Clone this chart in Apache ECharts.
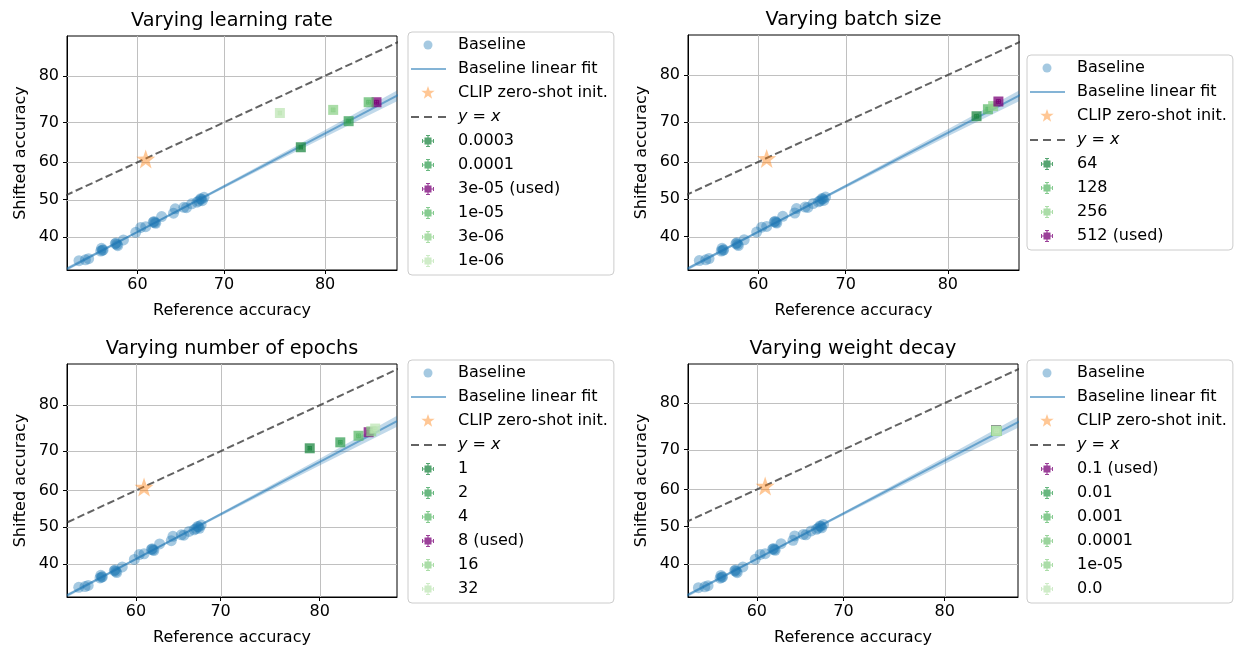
<!DOCTYPE html>
<html><head><meta charset="utf-8">
<script src="https://cdn.jsdelivr.net/npm/echarts@6/dist/echarts.min.js"></script>
<style>html,body{margin:0;padding:0;background:#fff}#c{width:1238px;height:647px}</style>
</head><body><div id="c"></div><script>
// ---------------- DATA ----------------
const baseX = [52.8, 53.6, 54.0, 55.5, 55.8, 55.6, 57.3, 57.6, 57.4, 58.3, 59.8, 60.4, 61.0, 62.0, 62.2, 61.9, 62.9, 64.3, 64.5, 65.5, 65.8, 66.4, 67.0, 67.4, 67.6, 67.8, 67.2, 55.7, 57.5, 62.1, 67.5];
const baseY = [33.9, 34.1, 34.4, 36.3, 36.6, 37.0, 38.2, 37.7, 38.4, 39.2, 41.2, 42.5, 42.7, 44.1, 43.6, 43.9, 45.4, 46.3, 47.5, 47.9, 47.8, 48.85, 49.3, 50.2, 49.7, 50.6, 49.6, 36.5, 38.0, 43.8, 50.1];
const fitX = [51.3, 86.2];
const fitY = [31.9, 76.8];
const bandX  = [51.3, 60, 67, 75, 80, 86.2];
const bandLo = [31.45, 41.0, 49.35, 59.6, 66.5, 75.6];
const bandHi = [32.3, 41.55, 50.0, 60.85, 68.2, 77.9];
const clipX = [61.0], clipY = [60.9];
const diagX = [40, 95], diagY = [40, 95];
const xTicks = [60, 70, 80];
const yTicks = [40, 50, 60, 70, 80];
const titles = ['Varying learning rate', 'Varying batch size', 'Varying number of epochs', 'Varying weight decay'];

const lrNames = ['0.0003', '0.0001', '3e-05 (used)', '1e-05', '3e-06', '1e-06'];
const lrX = [77.8, 82.0, 84.2, 83.6, 80.7, 75.8];
const lrY = [63.9, 70.3, 74.6, 74.6, 72.9, 72.2];
const lrXe = [0.15, 0.15, 0.15, 0.15, 0.15, 0.15];
const lrYe = [0.4, 0.4, 0.4, 0.4, 0.4, 0.4];

const bsNames = ['64', '128', '256', '512 (used)'];
const bsX = [82.4, 83.3, 83.7, 84.1];
const bsY = [71.3, 72.9, 73.6, 74.6];
const bsXe = [0.15, 0.15, 0.15, 0.15];
const bsYe = [0.4, 0.4, 0.4, 0.4];

const epNames = ['1', '2', '4', '8 (used)', '16', '32'];
const epX = [79.1, 81.8, 83.3, 84.1, 84.3, 84.6];
const epY = [70.7, 72.1, 73.6, 74.4, 74.6, 75.2];
const epXe = [0.15, 0.15, 0.15, 0.15, 0.15, 0.15];
const epYe = [0.4, 0.4, 0.4, 0.4, 0.4, 0.4];

const wdNames = ['0.1 (used)', '0.01', '0.001', '0.0001', '1e-05', '0.0'];
const wdX = [84.2, 84.2, 84.25, 84.2, 84.2, 84.25];
const wdY = [74.45, 74.3, 74.3, 74.35, 74.3, 74.3];
const wdXe = [0.15, 0.15, 0.15, 0.15, 0.15, 0.15];
const wdYe = [0.4, 0.4, 0.4, 0.4, 0.4, 0.4];

// axis limits (percent)
const xLims = [[51.3, 85.7], [51.4, 85.6], [51.3, 86.2], [51.5, 85.8]];
const yLims = [[31.6, 86.7], [31.6, 86.7], [31.5, 87.0], [31.6, 86.6]];

// ---------------- STYLE / LAYOUT ----------------
const FONT = 'DejaVu Sans';
const FS = 16, TFS = 19.2;
const G0 = 'rgba(30,135,65,0.75)', G1 = 'rgba(55,160,85,0.75)', G2 = 'rgba(93,185,107,0.75)',
      G2b = 'rgba(121,197,124,0.75)', G3 = 'rgba(143,209,139,0.75)', G4 = 'rgba(191,229,182,0.75)',
      PU = 'rgba(122,1,119,0.75)';
const lrColors = [G0, G1, PU, G2, G3, G4];
const bsColors = [G0, G2, G3, PU];
const epColors = [G0, G1, G2, PU, G3, G4];
const wdColors = [PU, G1, G2, G2b, G3, G4];
const BLUE_PT = 'rgba(31,119,180,0.5)';
const BLUE_LN = 'rgba(31,119,180,0.55)';
const BLUE_BAND = 'rgba(31,119,180,0.28)';
const ORANGE = 'rgba(255,127,14,0.55)';
const DIAG = 'rgba(60,60,60,0.8)';

const grids = [
  {left: 67, top: 36, width: 330, height: 234},
  {left: 688, top: 35, width: 331, height: 235},
  {left: 67, top: 364, width: 330, height: 233},
  {left: 688, top: 364, width: 330, height: 233}
];
const legendPos = [{left: 408, top: 32}, {left: 1027, top: 55}, {left: 408, top: 360}, {left: 1027, top: 360}];

// ---------------- probit scale ----------------
function probit(p) {
  const a = [-3.969683028665376e+01, 2.209460984245205e+02, -2.759285104469687e+02, 1.383577518672690e+02, -3.066479806614716e+01, 2.506628277459239e+00];
  const b = [-5.447609879822406e+01, 1.615858368580409e+02, -1.556989798598866e+02, 6.680131188771972e+01, -1.328068155288572e+01];
  const c = [-7.784894002430293e-03, -3.223964580411365e-01, -2.400758277161838e+00, -2.549732539343734e+00, 4.374664141464968e+00, 2.938163982698783e+00];
  const d = [7.784695709041462e-03, 3.224671290700398e-01, 2.445134137142996e+00, 3.754408661907416e+00];
  const pl = 0.02425, ph = 1 - pl; let q, r;
  if (p < pl) { q = Math.sqrt(-2 * Math.log(p)); return (((((c[0]*q+c[1])*q+c[2])*q+c[3])*q+c[4])*q+c[5]) / ((((d[0]*q+d[1])*q+d[2])*q+d[3])*q+1); }
  if (p <= ph) { q = p - 0.5; r = q*q; return (((((a[0]*r+a[1])*r+a[2])*r+a[3])*r+a[4])*r+a[5])*q / (((((b[0]*r+b[1])*r+b[2])*r+b[3])*r+b[4])*r+1); }
  q = Math.sqrt(-2 * Math.log(1 - p)); return -(((((c[0]*q+c[1])*q+c[2])*q+c[3])*q+c[4])*q+c[5]) / ((((d[0]*q+d[1])*q+d[2])*q+d[3])*q+1);
}
const P = v => probit(v / 100);
const xTickP = xTicks.map(P), yTickP = yTicks.map(P);
function tickFmt(ticks) {
  return function (v) {
    for (const t of ticks) if (Math.abs(P(t) - v) < 1e-6) return String(t);
    return '';
  };
}

// ---------------- icons (42x14 box, symbol centred at x=17) ----------------
const BOX = 'M0 0M42 14';
const ICON_CIRCLE = 'path://' + BOX + 'M12.5 7A4.5 4.5 0 1 1 21.5 7A4.5 4.5 0 1 1 12.5 7Z';
const ICON_LINE = 'path://' + BOX + 'M0 6h35v2h-35z';
const ICON_DASH = 'path://' + BOX + 'M0 6.1h8v1.8h-8zM13 6.1h8v1.8h-8zM27 6.1h8v1.8h-8z';
const ICON_STAR = 'path://' + BOX + 'M17 0L18.65 4.73L23.66 4.84L19.66 7.87L21.11 12.66L17 9.8L12.89 12.66L14.34 7.87L10.34 4.84L15.35 4.73Z';
const ICON_ERR = 'path://' + BOX + 'M13.5 3.5h7v7h-7zM11 6.4h12v1.2h-12zM16.4 1h1.2v12h-1.2zM15 1h4v1h-4zM15 12h4v1h-4zM11 5h1v4h-1zM22 5h1v4h-1z';
const STAR = 'path://M10 0L12.35 6.76L19.51 6.91L13.8 11.24L15.88 18.09L10 14L4.12 18.09L6.2 11.24L0.49 6.91L7.65 6.76Z';

const panels = [
  {names: lrNames, xs: lrX, ys: lrY, xe: lrXe, ye: lrYe, colors: lrColors},
  {names: bsNames, xs: bsX, ys: bsY, xe: bsXe, ye: bsYe, colors: bsColors},
  {names: epNames, xs: epX, ys: epY, xe: epXe, ye: epYe, colors: epColors},
  {names: wdNames, xs: wdX, ys: wdY, xe: wdXe, ye: wdYe, colors: wdColors}
];

const option = {
  animation: false,
  backgroundColor: '#fff',
  grid: grids.map(g => Object.assign({show: true, borderColor: '#000', borderWidth: 1, backgroundColor: 'transparent'}, g)),
  xAxis: [], yAxis: [], series: [], legend: [], graphic: []
};

panels.forEach((pn, i) => {
  const g = grids[i];
  option.graphic.push({type: 'text', x: g.left + g.width / 2, y: g.top - 15, silent: true,
    style: {text: titles[i], fill: '#000', font: TFS + 'px "' + FONT + '"', textAlign: 'center', textVerticalAlign: 'middle'}});
  option.xAxis.push({
    gridIndex: i, type: 'value', min: P(xLims[i][0]), max: P(xLims[i][1]),
    axisLine: {onZero: false, lineStyle: {color: '#000', width: 1}},
    axisTick: {show: true, customValues: xTickP, length: 4, lineStyle: {color: '#000'}},
    axisLabel: {customValues: xTickP, formatter: tickFmt(xTicks), color: '#000', fontSize: FS, fontFamily: FONT, margin: 7},
    splitLine: {show: false},
    name: 'Reference accuracy', nameLocation: 'middle', nameGap: 33,
    nameTextStyle: {color: '#000', fontSize: FS, fontFamily: FONT}
  });
  option.yAxis.push({
    gridIndex: i, type: 'value', min: P(yLims[i][0]), max: P(yLims[i][1]),
    axisLine: {onZero: false, lineStyle: {color: '#000', width: 1}},
    axisTick: {show: true, customValues: yTickP, length: 4, lineStyle: {color: '#000'}},
    axisLabel: {customValues: yTickP, formatter: tickFmt(yTicks), color: '#000', fontSize: FS, fontFamily: FONT, margin: 8},
    splitLine: {show: false},
    name: 'Shifted accuracy', nameLocation: 'middle', nameGap: 38,
    nameTextStyle: {color: '#000', fontSize: FS, fontFamily: FONT}
  });
  // grid lines
  option.series.push({
    type: 'custom', xAxisIndex: i, yAxisIndex: i, silent: true, z: 1,
    data: [[P(xLims[i][0]), P(yLims[i][0])]],
    renderItem: function (params, api) {
      const cs = params.coordSys; const ch = [];
      xTicks.forEach(t => { const x = Math.round(api.coord([P(t), P(50)])[0]) + 0.5;
        ch.push({type: 'line', shape: {x1: x, y1: cs.y, x2: x, y2: cs.y + cs.height}, style: {stroke: '#c0c0c0', lineWidth: 1}}); });
      yTicks.forEach(t => { const y = Math.round(api.coord([P(60), P(t)])[1]) + 0.5;
        ch.push({type: 'line', shape: {x1: cs.x, y1: y, x2: cs.x + cs.width, y2: y}, style: {stroke: '#c0c0c0', lineWidth: 1}}); });
      return {type: 'group', children: ch};
    }
  });
  // baseline scatter
  option.series.push({
    name: 'Baseline', type: 'scatter', xAxisIndex: i, yAxisIndex: i, z: 3,
    symbol: 'circle', symbolSize: 11, itemStyle: {color: BLUE_PT},
    data: baseX.map((x, k) => [P(x), P(baseY[k])])
  });
  // band
  option.series.push({
    type: 'custom', xAxisIndex: i, yAxisIndex: i, silent: true, clip: true, z: 3,
    data: [[P(bandX[0]), P(bandLo[0])]],
    renderItem: function (params, api) {
      const pts = [];
      bandX.forEach((x, k) => pts.push(api.coord([P(x), P(bandLo[k])])));
      for (let k = bandX.length - 1; k >= 0; k--) pts.push(api.coord([P(bandX[k]), P(bandHi[k])]));
      return {type: 'polygon', shape: {points: pts}, style: {fill: BLUE_BAND}};
    }
  });
  // fit line
  option.series.push({
    name: 'Baseline linear fit', type: 'line', xAxisIndex: i, yAxisIndex: i, z: 4, clip: true,
    symbol: 'none', lineStyle: {color: BLUE_LN, width: 2}, itemStyle: {color: BLUE_LN},
    data: fitX.map((x, k) => [P(x), P(fitY[k])])
  });
  // CLIP star
  option.series.push({
    name: 'CLIP zero-shot init.', type: 'scatter', xAxisIndex: i, yAxisIndex: i, z: 5,
    symbol: STAR, symbolSize: 19, itemStyle: {color: ORANGE},
    data: clipX.map((x, k) => [P(x), P(clipY[k])])
  });
  // y = x
  option.series.push({
    name: 'y = x', type: 'line', xAxisIndex: i, yAxisIndex: i, z: 4, clip: true,
    symbol: 'none', lineStyle: {color: DIAG, width: 2, type: [7.5, 3.5]}, itemStyle: {color: DIAG},
    data: diagX.map((x, k) => [P(x), P(diagY[k])])
  });
  // hyperparameter points with error bars
  pn.names.forEach((nm, k) => {
    const col = pn.colors[k];
    option.series.push({
      name: nm, type: 'custom', xAxisIndex: i, yAxisIndex: i, z: 6 + k,
      itemStyle: {color: col},
      data: [[P(pn.xs[k]), P(pn.ys[k]), P(pn.xs[k] - pn.xe[k]), P(pn.xs[k] + pn.xe[k]), P(pn.ys[k] - pn.ye[k]), P(pn.ys[k] + pn.ye[k])]],
      renderItem: function (params, api) {
        const x = api.value(0), y = api.value(1);
        const c = api.coord([x, y]);
        const l = api.coord([api.value(2), y]), r = api.coord([api.value(3), y]);
        const b = api.coord([x, api.value(4)]), t = api.coord([x, api.value(5)]);
        const s = 10, cap = 2;
        const ls = {stroke: col, lineWidth: 1.2};
        return {type: 'group', children: [
          {type: 'rect', shape: {x: c[0] - s / 2, y: c[1] - s / 2, width: s, height: s}, style: {fill: col}},
          {type: 'line', shape: {x1: l[0], y1: c[1], x2: r[0], y2: c[1]}, style: ls},
          {type: 'line', shape: {x1: c[0], y1: t[1], x2: c[0], y2: b[1]}, style: ls},
          {type: 'line', shape: {x1: l[0], y1: c[1] - cap, x2: l[0], y2: c[1] + cap}, style: ls},
          {type: 'line', shape: {x1: r[0], y1: c[1] - cap, x2: r[0], y2: c[1] + cap}, style: ls},
          {type: 'line', shape: {x1: c[0] - cap, y1: t[1], x2: c[0] + cap, y2: t[1]}, style: ls},
          {type: 'line', shape: {x1: c[0] - cap, y1: b[1], x2: c[0] + cap, y2: b[1]}, style: ls}
        ]};
      }
    });
  });
  // legend
  const ld = [
    {name: 'Baseline', icon: ICON_CIRCLE, itemStyle: {color: BLUE_PT, borderWidth: 0}},
    {name: 'Baseline linear fit', icon: ICON_LINE, itemStyle: {color: BLUE_LN, borderWidth: 0}},
    {name: 'CLIP zero-shot init.', icon: ICON_STAR, itemStyle: {color: ORANGE, borderWidth: 0}},
    {name: 'y = x', icon: ICON_DASH, itemStyle: {color: DIAG, borderWidth: 0}}
  ];
  pn.names.forEach((nm, k) => ld.push({name: nm, icon: ICON_ERR, itemStyle: {color: pn.colors[k], borderWidth: 0}}));
  option.legend.push(Object.assign({
    orient: 'vertical', selectedMode: false, data: ld,
    itemWidth: 42, itemHeight: 14, itemGap: 8,
    padding: [5, 6, 6, 3],
    backgroundColor: 'rgba(255,255,255,0.8)', borderColor: '#cccccc', borderWidth: 1, borderRadius: 4,
    formatter: n => n === 'y = x' ? '{i|y} = {i|x}' : n,
    textStyle: {color: '#000', fontSize: FS, fontFamily: FONT, lineHeight: 16,
      rich: {i: {fontStyle: 'italic', color: '#000', fontSize: FS, fontFamily: FONT, lineHeight: 16}}}
  }, legendPos[i]));
});

const chart = echarts.init(document.getElementById('c'), null, {renderer: 'canvas'});
chart.setOption(option);
</script></body></html>
